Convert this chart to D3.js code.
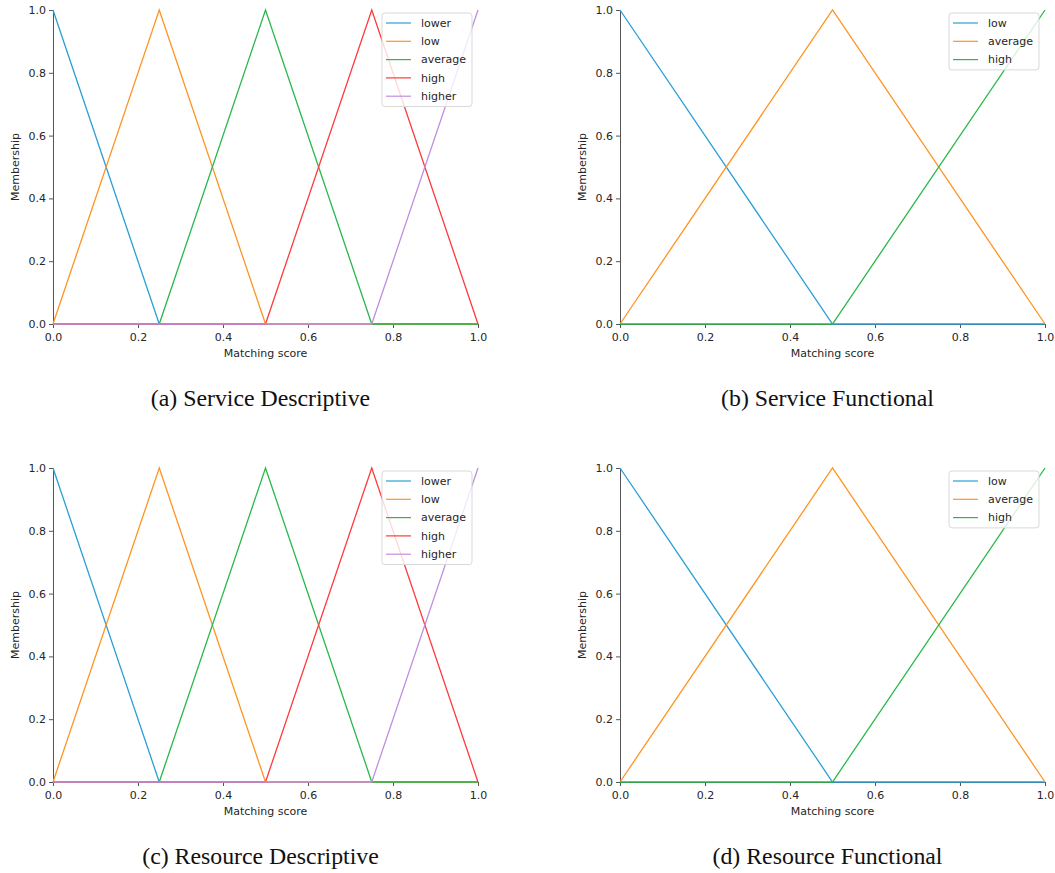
<!DOCTYPE html>
<html>
<head>
<meta charset="utf-8">
<script src="https://cdn.jsdelivr.net/npm/d3@7"></script>
<style>
  body { margin: 0; background: #fff; }
  .axis text { font-family: "DejaVu Sans", sans-serif; font-size: 11px; fill: #262626; }
  .axis path, .axis line { stroke: #555; }
  .label { font-family: "DejaVu Sans", sans-serif; font-size: 11px; fill: #262626; }
  .caption { font-family: "Liberation Serif", "Times New Roman", serif; font-size: 23.8px; fill: #111; }
  .legend text { font-family: "DejaVu Sans", sans-serif; font-size: 11px; fill: #262626; }
</style>
</head>
<body>
<svg id="fig" width="1055" height="873"></svg>
<script>
// five-term sets (descriptive)
var descTerms = ["lower", "low", "average", "high", "higher"];
var descX = [0, 0.25, 0.5, 0.75, 1];
var descY = [
    [1, 0, 0, 0, 0],
    [0, 1, 0, 0, 0],
    [0, 0, 1, 0, 0],
    [0, 0, 0, 1, 0],
    [0, 0, 0, 0, 1]
];
// three-term sets (functional)
var funcTerms = ["low", "average", "high"];
var funcX = [0, 0.5, 1];
var funcY = [
    [1, 0, 0],
    [0, 1, 0],
    [0, 0, 1]
];
var xTicks = [0, 0.2, 0.4, 0.6, 0.8, 1.0];
var yTicks = [0, 0.2, 0.4, 0.6, 0.8, 1.0];
var colors = ["#2a9fd6", "#ff9422", "#28b94a", "#ff3a3a", "#c08ee0"];

var panels = [
    {left: 53, top: 10, terms: descTerms, xs: descX, ys: descY, caption: "(a) Service Descriptive"},
    {left: 620, top: 10, terms: funcTerms, xs: funcX, ys: funcY, caption: "(b) Service Functional"},
    {left: 53, top: 468, terms: descTerms, xs: descX, ys: descY, caption: "(c) Resource Descriptive"},
    {left: 620, top: 468, terms: funcTerms, xs: funcX, ys: funcY, caption: "(d) Resource Functional"}
];

var w = 425, h = 314;
var svg = d3.select("#fig");

panels.forEach(function(p) {
    var g = svg.append("g")
        .attr("transform", "translate(" + p.left + "," + p.top + ")");

    var x = d3.scaleLinear().domain([0, 1]).range([0, w]);
    var y = d3.scaleLinear().domain([0, 1]).range([h, 0]);

    g.append("g")
        .attr("class", "axis")
        .attr("transform", "translate(0," + h + ")")
        .call(d3.axisBottom(x).tickValues(xTicks).tickFormat(d3.format(".1f")).tickSize(4).tickSizeOuter(0))
        .selectAll("text").attr("dy", "0.95em");

    g.append("g")
        .attr("class", "axis")
        .call(d3.axisLeft(y).tickValues(yTicks).tickFormat(d3.format(".1f")).tickSize(4).tickSizeOuter(0));

    var line = d3.line()
        .x(function(d) { return x(d[0]); })
        .y(function(d) { return y(d[1]); });

    p.terms.forEach(function(t, i) {
        var pts = p.xs.map(function(v, j) { return [v, p.ys[i][j]]; });
        g.append("path")
            .datum(pts)
            .attr("d", line)
            .attr("fill", "none")
            .attr("stroke", colors[i])
            .attr("stroke-width", 1.3);
    });

    g.append("text")
        .attr("class", "label")
        .attr("x", w / 2)
        .attr("y", h + 33)
        .attr("text-anchor", "middle")
        .text("Matching score");

    g.append("text")
        .attr("class", "label")
        .attr("transform", "translate(" + (-34) + "," + (h / 2) + ") rotate(-90)")
        .attr("text-anchor", "middle")
        .text("Membership");

    // legend
    var lg = g.append("g").attr("class", "legend");
    var box = lg.append("rect");
    var maxW = 0;
    p.terms.forEach(function(t, i) {
        var ry = 13 + 18.3 * i;
        lg.append("line")
            .attr("x1", 0).attr("x2", 25)
            .attr("y1", ry).attr("y2", ry)
            .attr("stroke", colors[i])
            .attr("stroke-width", 1.2);
        var tx = lg.append("text")
            .attr("x", 35).attr("y", ry)
            .attr("dy", "0.35em")
            .text(t);
        maxW = Math.max(maxW, tx.node().getComputedTextLength());
    });
    var bw = 35 + maxW + 6 + 4;
    var bh = 18.3 * p.terms.length + 2;
    var bx = w - 6 - bw;
    box.attr("x", -4).attr("y", 3)
        .attr("width", bw).attr("height", bh)
        .attr("rx", 3)
        .attr("fill", "#fff").attr("fill-opacity", 0.8)
        .attr("stroke", "#d9d9d9");
    lg.attr("transform", "translate(" + (bx + 4) + ",0)");

    svg.append("text")
        .attr("class", "caption")
        .attr("x", p.left + w / 2 - 5)
        .attr("y", p.top + 396)
        .attr("text-anchor", "middle")
        .text(p.caption);
});
</script>
</body>
</html>
